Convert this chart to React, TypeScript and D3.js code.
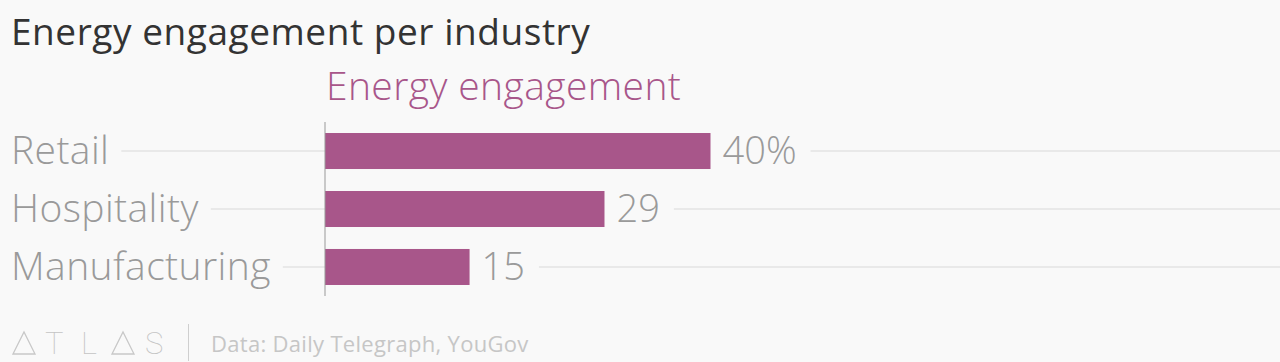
import React, { useEffect, useRef } from "react";
import * as d3 from "d3";

const categories: string[] = ["Retail", "Hospitality", "Manufacturing"];
const values: number[] = [40, 29, 15];
const valueLabels: string[] = ["40%", "29", "15"];
const title = "Energy engagement per industry";
const seriesName = "Energy engagement";
const source = "Data: Daily Telegraph, YouGov";
const logoLetters: string[] = ["A", "T", "L", "A", "S"];

const W = 1280;
const H = 362;
const FONT = "'Open Sans', Roboto, sans-serif";
const BAR = "#a8568a";
const GRID = "#e9e9e9";
const LABEL = "#9a9a9a";

export default function App() {
  const ref = useRef<SVGSVGElement | null>(null);

  useEffect(() => {
    document.body.style.margin = "0";
    const svg = d3.select(ref.current);
    svg.selectAll("*").remove();

    const x = d3.scaleLinear().domain([0, 40]).range([325, 710.5]);
    const y = d3
      .scaleBand<string>()
      .domain(categories)
      .range([122, 296])
      .paddingInner(0.379)
      .paddingOuter(0.19);

    svg.append("rect").attr("width", W).attr("height", H).attr("fill", "#f9f9f9");

    svg
      .append("text")
      .attr("x", 11)
      .attr("y", 45)
      .attr("font-family", FONT)
      .attr("font-size", 37)
      .attr("letter-spacing", 0.55)
      .attr("fill", "#333")
      .text(title);

    svg
      .append("text")
      .attr("x", 326)
      .attr("y", 100)
      .attr("font-family", FONT)
      .attr("font-size", 39)
      .attr("font-weight", 300)
      .attr("letter-spacing", 0.4)
      .attr("fill", BAR)
      .text(seriesName);

    const gGrid = svg.append("g");
    const gBars = svg.append("g");
    const gText = svg.append("g");

    categories.forEach((c, i) => {
      const cy = (y(c) as number) + y.bandwidth() / 2;
      const lab = gText
        .append("text")
        .attr("x", 11)
        .attr("y", cy + 13)
        .attr("font-family", FONT)
        .attr("font-size", 39)
        .attr("font-weight", 300)
        .attr("letter-spacing", 0.4)
        .attr("fill", LABEL)
        .text(c);
      const lw = (lab.node() as SVGTextElement).getComputedTextLength();

      gBars
        .append("rect")
        .attr("x", x(0))
        .attr("y", y(c) as number)
        .attr("width", x(values[i]) - x(0))
        .attr("height", y.bandwidth())
        .attr("fill", BAR);

      const val = gText
        .append("text")
        .attr("x", x(values[i]) + 12)
        .attr("y", cy + 13)
        .attr("font-family", FONT)
        .attr("font-size", 38)
        .attr("font-weight", 300)
        .attr("fill", LABEL)
        .text(valueLabels[i]);
      const vw = (val.node() as SVGTextElement).getComputedTextLength();

      gGrid
        .append("line")
        .attr("x1", 11 + lw + 12)
        .attr("x2", x(0))
        .attr("y1", cy)
        .attr("y2", cy)
        .attr("stroke", GRID)
        .attr("stroke-width", 2);
      gGrid
        .append("line")
        .attr("x1", x(values[i]) + 12 + vw + 14)
        .attr("x2", W)
        .attr("y1", cy)
        .attr("y2", cy)
        .attr("stroke", GRID)
        .attr("stroke-width", 2);
    });

    svg
      .append("line")
      .attr("x1", x(0))
      .attr("x2", x(0))
      .attr("y1", 122)
      .attr("y2", 296)
      .attr("stroke", "#999")
      .attr("stroke-width", 1);

    // footer logo
    const logo = svg.append("g").attr("stroke", "#c8c8c8").attr("fill", "none").attr("stroke-width", 1.3);
    const letterX = [13, 47, 83, 112, 147];
    logoLetters.forEach((l, i) => {
      const lx = letterX[i];
      if (l === "A") {
        logo.append("path").attr("d", `M${lx},354 L${lx + 11},332 L${lx + 22},354 Z`);
      } else {
        svg
          .append("text")
          .attr("x", lx - 2)
          .attr("y", 354)
          .attr("font-family", "Roboto, sans-serif")
          .attr("font-size", 31)
          .attr("font-weight", 100)
          .attr("fill", "#c4c4c4")
          .text(l);
      }
    });
    svg
      .append("line")
      .attr("x1", 188.5)
      .attr("x2", 188.5)
      .attr("y1", 324)
      .attr("y2", 361)
      .attr("stroke", "#cfcfcf")
      .attr("stroke-width", 1);
    svg
      .append("text")
      .attr("x", 211)
      .attr("y", 352)
      .attr("font-family", FONT)
      .attr("font-size", 22)
      .attr("letter-spacing", 0.3)
      .attr("fill", "#c6c6c6")
      .text(source);
  }, []);

  return (
    <div style={{ position: "absolute", left: 0, top: 0 }}>
      <svg ref={ref} width={W} height={H} style={{ display: "block" }} />
    </div>
  );
}
